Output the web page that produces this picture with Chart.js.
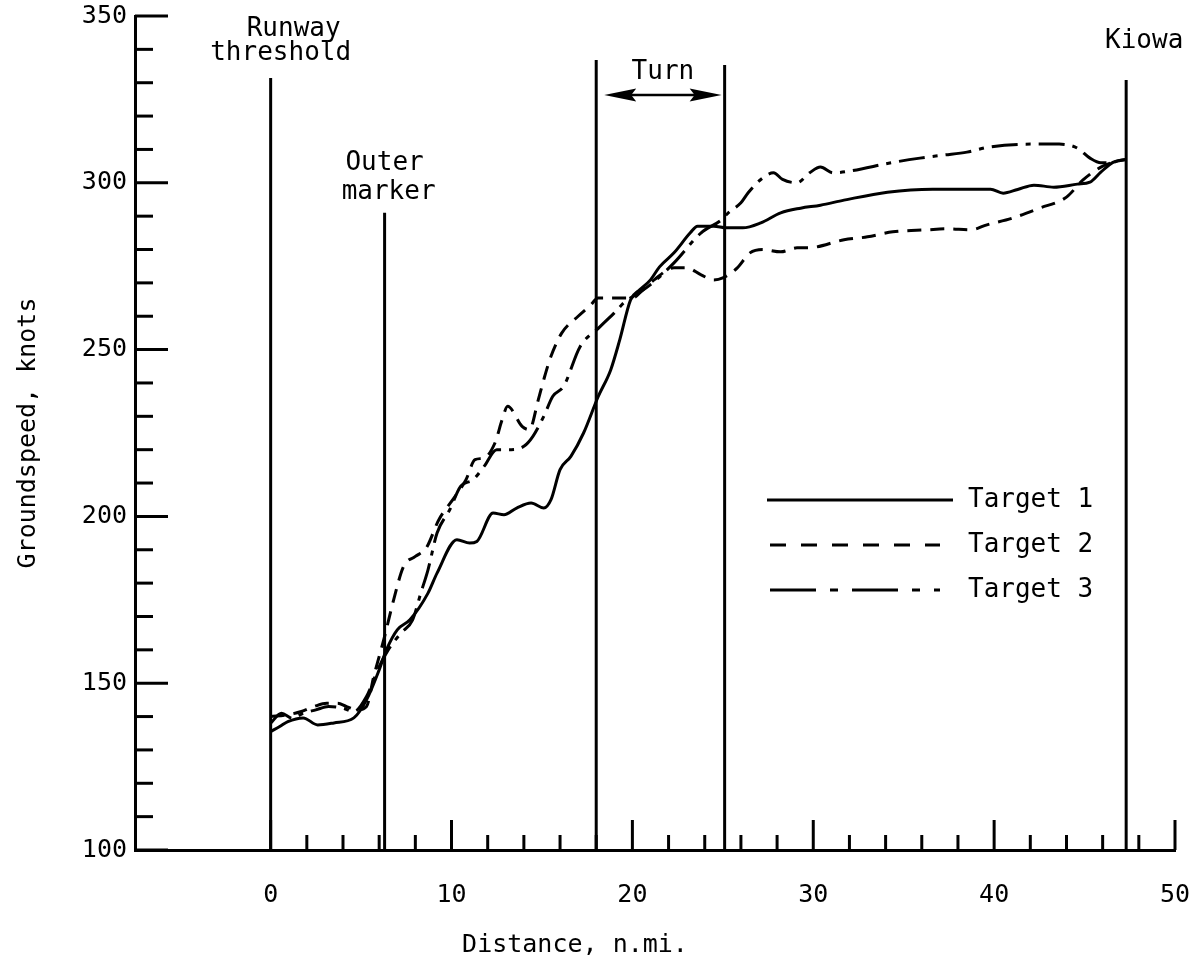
<!DOCTYPE html>
<html><head><meta charset="utf-8">
<script src="https://cdn.jsdelivr.net/npm/chart.js@4.4.1/dist/chart.umd.min.js"></script>
<style>html,body{margin:0;padding:0;background:#fff;}</style>
</head><body>
<canvas id="c" width="1204" height="966"></canvas>
<script>
const FONT = "'DejaVu Sans Mono', monospace";

// Tick values
const xTickValues = [0, 10, 20, 30, 40, 50];
const xMinorTicks = [2,4,6,8,12,14,16,18,22,24,26,28,32,34,36,38,42,44,46,48];
const yTickValues = [100, 150, 200, 250, 300, 350];
const yMinorTicks = [110,120,130,140,160,170,180,190,210,220,230,240,260,270,280,290,310,320,330,340];

// Series: Target 1 (solid)
const t1X = [0,0.5,0.95,1.8,2.6,3.5,4.6,5.3,6.0,6.4,7.0,7.7,8.7,9.2,10.3,11.0,11.4,12.3,12.9,13.6,14.4,15.1,15.5,16.0,16.6,17.3,18.1,18.8,19.3,19.9,20.4,21.0,21.5,22.3,23.2,23.6,24.5,25.2,26.1,27.1,28.2,29.3,30.4,31.7,34.1,36.6,39.8,40.5,41.3,42.2,43.3,44.6,45.3,45.9,46.6,47.3];
const t1Y = [135.5,137,138.5,139.6,137.5,138.1,139.6,145,154,160,166,169,177,183,193,192,192.5,201,200.5,202.5,204,202.5,205,214,218,225,235.8,243.9,252.9,264.9,267.9,270.9,274.8,279,285,287,287,286.5,286.5,288,291,292.4,293.3,294.8,297.2,298.1,298.1,296.9,298,299.3,298.7,299.6,300.2,303.2,306.2,307];

// Target 2 (dashed)
const t2X = [0,0.9,1.7,2.4,3.1,3.7,4.2,4.8,5.3,5.7,6.3,6.8,7.35,8.0,8.6,9.3,10.2,10.8,11.3,11.8,12.4,12.8,13.1,13.9,14.3,14.8,15.1,15.5,16.1,17.0,17.7,18.1,20.0,20.6,21.2,22.3,23.0,23.8,24.5,25.0,25.8,26.5,27.2,28.2,29.1,29.7,31.7,33.0,34.4,36.3,37.4,38.7,39.6,41.0,42.5,44.0,44.9,45.9,46.6,47.3];
const t2Y = [140,140.5,141.5,143,144,144,143,142,143,152,164,175,185,188,190.5,199,206,211,217,217.5,222,229,233,227,226,235,241,248,255,260,263.4,265.5,265.5,268,270.9,274.5,274.5,272.4,270.9,271.5,274.5,279,280,279.3,280.5,280.5,282.9,283.8,285.3,285.9,286.2,285.9,287.4,289.4,292.4,295.7,300.8,304.7,306.2,307];

// Target 3 (dash-dot)
const t3X = [0,0.6,1.2,1.8,2.5,3.2,4.0,4.6,5.3,6.0,6.5,7.2,7.85,8.3,8.7,9.2,9.9,10.5,11.2,11.8,12.5,13.3,14.0,14.5,15.1,15.6,16.2,17.1,18.2,19.0,19.7,20.0,21.0,22.3,23.8,24.9,25.3,26.0,26.4,27.1,27.8,28.3,29.1,29.8,30.4,31.1,32.0,34.3,35.9,37.2,38.5,39.7,42.2,43.6,44.6,45.3,45.9,46.6,47.3];
const t3Y = [138,141,139.5,141,142,143,142.5,141.5,146,155,160,165,169,177,184,195,202,209,211,215,220,220,221,224,230,236,239,250.8,256.8,261,264.9,265.8,269.5,276,285,288.8,291,294,297,301,303,301,300,303,304.7,303,303.5,306,307.4,308.3,309.2,310.7,311.6,311.6,310.4,307.4,306,306.2,307.4];

// Vertical reference lines
const markerX = [0, 6.3, 18.0, 25.1, 47.3];
const markerTop = [331.4, 291, 336.8, 335.3, 330.8];
const turnRange = [18.0, 25.1];
const turnArrowY = 326.3;

const seriesLabels = ['Target 1', 'Target 2', 'Target 3'];

const pts = (xs, ys) => xs.map((v, i) => ({x: v, y: ys[i]}));

const dashes = [[], [14, 9], [26, 8, 5, 8]];
const legendDashes = [[], [16, 15], [46, 14, 8, 14]];

const seriesDatasets = [t1X, t2X, t3X].map((xs, i) => ({
  label: seriesLabels[i],
  data: pts(xs, [t1Y, t2Y, t3Y][i]),
  borderColor: '#000',
  borderWidth: 3,
  borderDash: dashes[i],
  pointRadius: 0,
  fill: false,
  tension: 0,
  cubicInterpolationMode: 'monotone',
  borderJoinStyle: 'round'
}));

const markerDatasets = markerX.map((m, i) => ({
  label: 'marker' + i,
  data: [{x: m, y: 100}, {x: m, y: markerTop[i]}],
  borderColor: '#000',
  borderWidth: 3,
  pointRadius: 0,
  fill: false
}));

const decor = {
  id: 'decor',
  afterDatasetsDraw(chart) {
    const {ctx, scales: {x, y}} = chart;
    const yb = y.getPixelForValue(100);
    const xl = x.getPixelForValue(-7.5);
    ctx.save();
    ctx.strokeStyle = '#000';
    ctx.fillStyle = '#000';
    ctx.lineWidth = 3;
    ctx.lineCap = 'butt';
    // x ticks (inward)
    xTickValues.forEach(v => {
      const px = x.getPixelForValue(v);
      ctx.beginPath(); ctx.moveTo(px, yb); ctx.lineTo(px, yb - 30); ctx.stroke();
    });
    xMinorTicks.forEach(v => {
      const px = x.getPixelForValue(v);
      ctx.beginPath(); ctx.moveTo(px, yb); ctx.lineTo(px, yb - 15); ctx.stroke();
    });
    // y ticks (inward)
    yTickValues.forEach(v => {
      const py = y.getPixelForValue(v);
      ctx.beginPath(); ctx.moveTo(xl, py); ctx.lineTo(xl + 33, py); ctx.stroke();
    });
    yMinorTicks.forEach(v => {
      const py = y.getPixelForValue(v);
      ctx.beginPath(); ctx.moveTo(xl, py); ctx.lineTo(xl + 18, py); ctx.stroke();
    });

    // Turn arrow
    const ay = y.getPixelForValue(turnArrowY);
    const ax1 = x.getPixelForValue(turnRange[0]) + 8;
    const ax2 = x.getPixelForValue(turnRange[1]) - 3;
    ctx.lineWidth = 2.5;
    ctx.beginPath(); ctx.moveTo(ax1 + 20, ay); ctx.lineTo(ax2 - 20, ay); ctx.stroke();
    ctx.beginPath(); ctx.moveTo(ax1, ay); ctx.lineTo(ax1 + 32, ay - 6.5); ctx.lineTo(ax1 + 27, ay); ctx.lineTo(ax1 + 32, ay + 6.5); ctx.closePath(); ctx.fill();
    ctx.beginPath(); ctx.moveTo(ax2, ay); ctx.lineTo(ax2 - 32, ay - 6.5); ctx.lineTo(ax2 - 27, ay); ctx.lineTo(ax2 - 32, ay + 6.5); ctx.closePath(); ctx.fill();

    // Annotations
    ctx.font = `26px ${FONT}`;
    ctx.textAlign = 'center';
    ctx.textBaseline = 'middle';
    const x0 = x.getPixelForValue(0);
    const xo = x.getPixelForValue(markerX[1]);
    const xk = x.getPixelForValue(markerX[4]);
    ctx.fillText('Runway', x0 + 23, 29);
    ctx.fillText('threshold', x0 + 10, 53);
    ctx.fillText('Outer', xo + 0, 163);
    ctx.fillText('marker', xo + 4, 192);
    ctx.fillText('Turn', (ax1 + ax2) / 2, 72);
    ctx.fillText('Kiowa', xk + 18, 41);
    // x axis title
    ctx.font = `25px ${FONT}`;
    ctx.fillText('Distance, n.mi.', 575, 945);

    // Legend
    ctx.font = `26px ${FONT}`;
    const legY = [500, 545, 590];
    const legX1 = [767, 770, 770];
    const legX2 = [953, 940, 940];
    ctx.lineWidth = 3;
    seriesLabels.forEach((lab, i) => {
      ctx.setLineDash(legendDashes[i]);
      ctx.beginPath(); ctx.moveTo(legX1[i], legY[i]); ctx.lineTo(legX2[i], legY[i]); ctx.stroke();
      ctx.setLineDash([]);
      ctx.textAlign = 'left';
      ctx.fillText(lab, 968, legY[i]);
    });
    ctx.restore();
  }
};

new Chart(document.getElementById('c'), {
  type: 'line',
  data: { datasets: [...seriesDatasets, ...markerDatasets] },
  options: {
    responsive: false,
    animation: false,
    devicePixelRatio: 1,
    layout: { padding: { left: 0, right: 29, top: 16, bottom: 0 } },
    plugins: { legend: { display: false }, tooltip: { enabled: false } },
    scales: {
      x: {
        type: 'linear', min: -7.5, max: 50,
        grid: { display: false, drawTicks: false },
        border: { display: true, width: 3, color: '#000' },
        afterBuildTicks: s => { s.ticks = xTickValues.map(v => ({ value: v })); },
        afterFit: s => { s.height = 116; s.paddingLeft = 0; s.paddingRight = 0; },
        ticks: { autoSkip: false, maxRotation: 0, padding: 30, color: '#000',
                 font: { family: FONT, size: 25 }, callback: v => String(v) }
      },
      y: {
        type: 'linear', min: 100, max: 350,
        grid: { display: false, drawTicks: false },
        border: { display: true, width: 3, color: '#000' },
        afterBuildTicks: s => { s.ticks = yTickValues.map(v => ({ value: v })); },
        afterFit: s => { s.width = 135; s.paddingTop = 0; s.paddingBottom = 0; },
        ticks: { autoSkip: false, padding: 8, color: '#000',
                 font: { family: FONT, size: 25 }, callback: v => String(v) },
        title: { display: true, text: 'Groundspeed, knots', color: '#000',
                 font: { family: FONT, size: 25 }, padding: { top: 13, bottom: 0 } }
      }
    }
  },
  plugins: [decor]
});
</script>
</body></html>
